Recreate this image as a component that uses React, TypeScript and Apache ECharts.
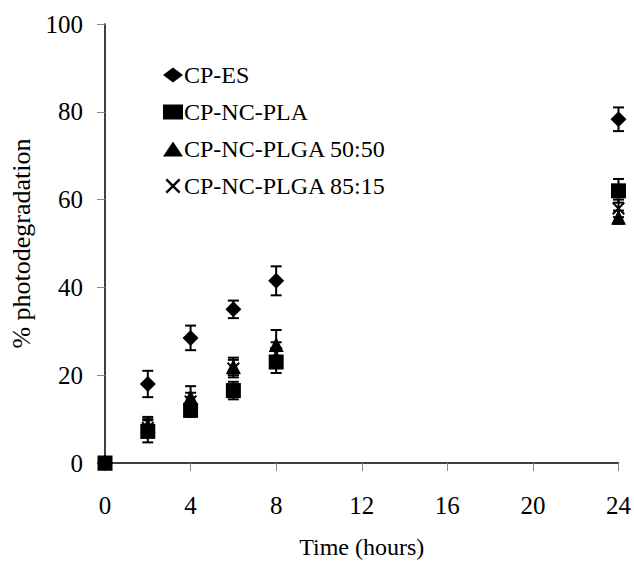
import React, { useEffect, useRef } from "react";
import * as echarts from "echarts";

const hours = [0, 2, 4, 6, 8, 24];
const xTicks = [0, 4, 8, 12, 16, 20, 24];
const yTicks = [0, 20, 40, 60, 80, 100];

const seriesNames = ["CP-ES", "CP-NC-PLA", "CP-NC-PLGA 50:50", "CP-NC-PLGA 85:15"];
const cpES = [0, 18, 28.5, 35, 41.5, 78.3];
const cpESErr = [0, 3, 2.8, 2, 3.3, 2.7];
const cpPLA = [0, 7.2, 12, 16.5, 23, 62];
const cpPLAErr = [0, 2.5, 1.5, 2, 2.5, 2.7];
const cpPLGA5050 = [0, 8.5, 15, 22, 27, 56];
const cpPLGA5050Err = [0, 2, 2.5, 2, 3.3, 1.5];
const cpPLGA8515 = [0, 8, 14, 21.5, 25, 58];
const cpPLGA8515Err = [0, 2, 2, 2, 2.5, 2];

const CROSS = "path://M0,1.1L1.1,0L5,3.9L8.9,0L10,1.1L6.1,5L10,8.9L8.9,10L5,6.1L1.1,10L0,8.9L3.9,5Z";
const symbols = ["diamond", "rect", "triangle", CROSS];
const symbolSizes = [16, 15, 15, 13];
const values = [cpES, cpPLA, cpPLGA5050, cpPLGA8515];
const errors = [cpESErr, cpPLAErr, cpPLGA5050Err, cpPLGA8515Err];

const FONT = "'Liberation Serif', 'Times New Roman', serif";

export default function App() {
  const ref = useRef<HTMLDivElement>(null);
  useEffect(() => {
    document.body.style.margin = "0";
    const chart = echarts.init(ref.current!, null, { renderer: "svg" });
    const errSeries = values.map((vals, si) => ({
      type: "custom",
      name: seriesNames[si] + " err",
      silent: true,
      z: 1,
      data: hours.map((h, i) => [h, vals[i] - errors[si][i], vals[i] + errors[si][i]]),
      renderItem: (params: any, api: any) => {
        const x = api.value(0);
        const lo = api.coord([x, api.value(1)]);
        const hi = api.coord([x, api.value(2)]);
        if (Math.abs(hi[1] - lo[1]) < 0.5) return { type: "group", children: [] };
        const w = 5.5;
        const style = { stroke: "#000", lineWidth: 2, fill: null };
        return {
          type: "group",
          children: [
            { type: "line", shape: { x1: lo[0], y1: lo[1], x2: hi[0], y2: hi[1] }, style },
            { type: "line", shape: { x1: hi[0] - w, y1: hi[1], x2: hi[0] + w, y2: hi[1] }, style },
            { type: "line", shape: { x1: lo[0] - w, y1: lo[1], x2: lo[0] + w, y2: lo[1] }, style },
          ],
        };
      },
    }));
    const markSeries = values.map((vals, si) => ({
      type: "scatter",
      name: seriesNames[si],
      symbol: symbols[si],
      symbolSize: symbolSizes[si],
      z: 2,
      itemStyle: { color: "#000", opacity: 1 },
      data: hours.map((h, i) => [h, vals[i]]),
    }));
    chart.setOption({
      animation: false,
      backgroundColor: "#fff",
      textStyle: { fontFamily: FONT, color: "#000" },
      grid: { left: 105, right: 15, top: 24, bottom: 101, containLabel: false },
      legend: {
        orient: "vertical",
        left: 158,
        top: 58,
        itemGap: 13,
        itemWidth: 20,
        itemHeight: 15,
        textStyle: { fontFamily: FONT, fontSize: 24, color: "#000", padding: [0, 0, 0, -4] },
        data: seriesNames.map((n, i) => ({ name: n, icon: symbols[i] })),
      },
      xAxis: {
        type: "value",
        min: 0,
        max: 24,
        interval: 4,
        name: "Time (hours)",
        nameLocation: "middle",
        nameGap: 72,
        nameTextStyle: { fontFamily: FONT, fontSize: 24, color: "#000" },
        axisLine: { show: true, lineStyle: { color: "#000", width: 1.5 } },
        axisTick: { show: true, length: 8, lineStyle: { color: "#888" } },
        axisLabel: {
          fontFamily: FONT,
          fontSize: 25,
          color: "#000",
          margin: 30,
          formatter: (v: number) => (xTicks.includes(v) ? String(v) : ""),
        },
        splitLine: { show: false },
      },
      yAxis: {
        type: "value",
        min: 0,
        max: 100,
        interval: 20,
        name: "% photodegradation",
        nameLocation: "middle",
        nameGap: 68,
        nameRotate: 90,
        nameTextStyle: { fontFamily: FONT, fontSize: 26, color: "#000" },
        axisLine: { show: true, lineStyle: { color: "#000", width: 1.5 } },
        axisTick: { show: true, length: 8, lineStyle: { color: "#888" } },
        axisLabel: {
          fontFamily: FONT,
          fontSize: 25,
          color: "#000",
          margin: 22,
          formatter: (v: number) => (yTicks.includes(v) ? String(v) : ""),
        },
        splitLine: { show: false },
      },
      series: [...errSeries, ...markSeries],
    });
    return () => chart.dispose();
  }, []);
  return <div ref={ref} style={{ width: 634, height: 564 }} />;
}
